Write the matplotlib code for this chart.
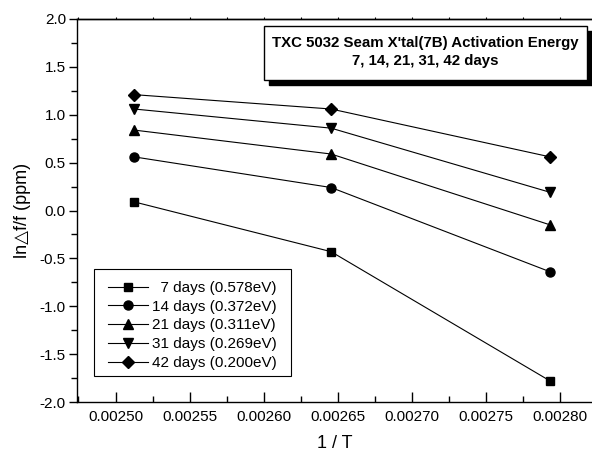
import matplotlib.pyplot as plt
import matplotlib.patches as mpatches
from matplotlib.ticker import MultipleLocator, FormatStrFormatter

plt.rcParams["font.family"] = ["Liberation Sans", "DejaVu Sans"]

# 1/T for 125, 105, 85 degC
inv_t = [1 / 398.0, 1 / 378.0, 1 / 358.0]

labels = [
    "  7 days (0.578eV)",
    "14 days (0.372eV)",
    "21 days (0.311eV)",
    "31 days (0.269eV)",
    "42 days (0.200eV)",
]
day7 = [0.09, -0.43, -1.78]
day14 = [0.56, 0.24, -0.64]
day21 = [0.84, 0.59, -0.15]
day31 = [1.06, 0.86, 0.19]
day42 = [1.21, 1.06, 0.56]
series = [day7, day14, day21, day31, day42]
markers = ["s", "o", "^", "v", "D"]
msizes = [5.5, 6.5, 6.5, 6.5, 5.8]

fig = plt.figure(figsize=(5.92, 4.54), dpi=100)
ax = fig.add_axes([77 / 592, 52 / 454, (592 - 77) / 592, 383 / 454])

for vals, lab, m, ms in zip(series, labels, markers, msizes):
    ax.plot(inv_t, vals, color="black", linewidth=0.8, marker=m,
            markersize=ms, markerfacecolor="black", markeredgecolor="black",
            label=lab)

ax.set_xlim(0.002474, 0.0028216)
ax.set_ylim(-2.0, 2.0)
ax.xaxis.set_major_locator(MultipleLocator(0.00005))
ax.xaxis.set_minor_locator(MultipleLocator(0.000025))
ax.xaxis.set_major_formatter(FormatStrFormatter("%.5f"))
ax.yaxis.set_major_locator(MultipleLocator(0.5))
ax.yaxis.set_minor_locator(MultipleLocator(0.25))
ax.yaxis.set_major_formatter(FormatStrFormatter("%.1f"))

ax.spines["right"].set_visible(False)
for s in ["left", "bottom", "top"]:
    ax.spines[s].set_linewidth(1.0)

ax.tick_params(axis="x", which="major", direction="in", length=7, width=1,
               labelsize=11, pad=6)
ax.tick_params(axis="x", which="minor", direction="in", length=4, width=1)
ax.tick_params(axis="y", which="major", direction="out", length=6, width=1,
               labelsize=11, pad=2)
ax.tick_params(axis="y", which="minor", direction="out", length=4, width=1)

# tiny outward ticks along the top edge
top = ax.secondary_xaxis("top")
top.xaxis.set_major_locator(MultipleLocator(0.000025))
top.tick_params(direction="out", length=1.5, width=0.8, labeltop=False)
top.spines["top"].set_linewidth(1.0)

ax.set_xlabel("1 / T", fontsize=13, labelpad=8)
ax.set_ylabel("ln\u25b3f/f (ppm)", fontsize=13, labelpad=6)

# legend entries without frame, frame drawn separately
leg = ax.legend(loc="upper left", bbox_to_anchor=(31 / 515, 121 / 383),
                fontsize=11, frameon=False, handlelength=2.6,
                handletextpad=0.3, labelspacing=0.31, borderpad=0,
                borderaxespad=0)
frame = mpatches.Rectangle((17 / 515, 26 / 383), 197 / 515, 107 / 383,
                           transform=ax.transAxes, facecolor="white",
                           edgecolor="black", linewidth=0.8, zorder=3)
ax.add_patch(frame)
leg.set_zorder(4)

# title box with drop shadow
bx, by, bw, bh = 264 / 592, 1 - 80 / 454, 323 / 592, 54 / 454
shadow = mpatches.Rectangle((bx + 5 / 592, by - 5 / 454), bw, bh,
                            transform=fig.transFigure, facecolor="black",
                            edgecolor="black", zorder=5)
box = mpatches.Rectangle((bx, by), bw, bh, transform=fig.transFigure,
                         facecolor="white", edgecolor="black", linewidth=1,
                         zorder=6)
fig.patches.extend([shadow, box])
fig.text(bx + bw / 2, by + bh / 2 + 1 / 454,
         "TXC 5032 Seam X'tal(7B) Activation Energy\n7, 14, 21, 31, 42 days",
         ha="center", va="center", fontsize=10.8, fontweight="bold",
         linespacing=1.35, zorder=7)

fig.savefig("out.png", dpi=100)
